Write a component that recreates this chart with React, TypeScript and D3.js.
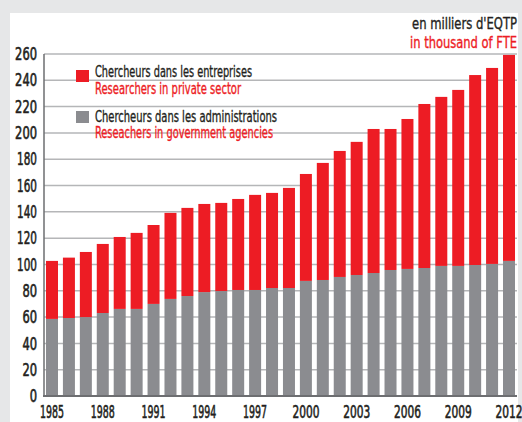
import React from "react";
import * as d3 from "d3";

const years = [1985, 1986, 1987, 1988, 1989, 1990, 1991, 1992, 1993, 1994, 1995, 1996, 1997, 1998, 1999, 2000, 2001, 2002, 2003, 2004, 2005, 2006, 2007, 2008, 2009, 2010, 2011, 2012];
const government = [58.6, 59.3, 60, 63.1, 66.2, 66.2, 70, 73.8, 76, 79, 79.8, 80.6, 80.6, 82.1, 82.1, 87.5, 88.2, 90.5, 92, 93.5, 95.8, 96.6, 97.3, 98.9, 98.9, 99.6, 100.4, 102.7];
const privateSector = [44.1, 45.9, 49.5, 52.5, 54.7, 57.8, 60, 65.4, 67, 67, 67, 69.2, 72.3, 72.3, 76.1, 81.3, 89, 95.8, 101.2, 109.5, 107.2, 114, 124.7, 128.5, 133.8, 144.4, 149, 156.6];
const yTicks = [0, 20, 40, 60, 80, 100, 120, 140, 160, 180, 200, 220, 240, 260];
const xTickYears = [1985, 1988, 1991, 1994, 1997, 2000, 2003, 2006, 2009, 2012];
const seriesKeys = ["government", "private"];
const seriesColors = ["#8b8c90", "#ed1c24"];

const W = 522;
const H = 422;
const FONT = "'DejaVu Sans Condensed', 'Liberation Sans Narrow', sans-serif";
const DARK = "#231f20";
const RED = "#ed1c24";

function T(props: any) {
  const { w, sw, children, fill, ...rest } = props;
  return (
    <text
      fontFamily={FONT}
      textLength={w}
      lengthAdjust="spacingAndGlyphs"
      fill={fill}
      stroke={fill}
      strokeWidth={sw ?? 0.35}
      {...rest}
    >
      {children}
    </text>
  );
}

export default function App() {
  const x = d3
    .scaleBand<number>()
    .domain(years)
    .range([44, 517])
    .paddingInner(0.291)
    .paddingOuter(0.118);
  const y = d3.scaleLinear().domain([0, 260]).range([396, 54]);

  const rows = years.map((yr, i) => ({ year: yr, government: government[i], private: privateSector[i] }));
  const stacked = d3.stack<any>().keys(seriesKeys)(rows);

  return (
    <svg width={W} height={H} style={{ position: "absolute", left: 0, top: 0 }}>
      <rect x={0} y={0} width={W} height={H} fill="#e6e7e8" />
      <rect x={10} y={13} width={508} height={H - 13} fill="#ffffff" />

      {yTicks.filter((t) => t > 0).map((t) => (
        <line key={t} x1={44} x2={517} y1={y(t)} y2={y(t)} stroke="#b5b6b8" strokeWidth={1.5} />
      ))}

      {stacked.map((s, si) => (
        <g key={s.key} fill={seriesColors[si]}>
          {s.map((d, i) => (
            <rect
              key={i}
              x={x(years[i])}
              width={x.bandwidth()}
              y={y(d[1])}
              height={y(d[0]) - y(d[1])}
            />
          ))}
        </g>
      ))}

      <line x1={44} x2={44} y1={y(260)} y2={y(0) + 1} stroke="#6d6e71" strokeWidth={1.5} />
      <line x1={43} x2={517} y1={y(0)} y2={y(0)} stroke="#6d6e71" strokeWidth={2} />

      {yTicks.map((t) => {
        const s = String(t);
        const w = s.length * 7.3 - (s.startsWith("1") ? 2 : 0);
        return (
          <T key={t} w={w} sw={0.6} x={37} y={y(t)} dy="0.36em" textAnchor="end" fontSize={17} fill={DARK}>
            {s}
          </T>
        );
      })}

      {xTickYears.map((yr) => (
        <T
          key={yr}
          w={yr < 2000 ? 24 : 27}
          sw={0.6}
          x={(x(yr) as number) + x.bandwidth() / 2}
          y={418}
          textAnchor="middle"
          fontSize={17}
          fill={DARK}
        >
          {yr}
        </T>
      ))}

      <T w={105} x={517} y={29} textAnchor="end" fontSize={16} fill={DARK}>
        en milliers d'EQTP
      </T>
      <T w={107} x={517} y={48} textAnchor="end" fontSize={16} fill={RED}>
        in thousand of FTE
      </T>

      <rect x={76} y={70} width={13} height={12} fill={seriesColors[1]} />
      <T w={157} x={95} y={77} fontSize={16} fill={DARK}>
        Chercheurs dans les entreprises
      </T>
      <T w={146} x={95} y={94} fontSize={16} fill={RED}>
        Researchers in private sector
      </T>
      <rect x={76} y={111} width={13} height={12} fill={seriesColors[0]} />
      <T w={182} x={95} y={122} fontSize={16} fill={DARK}>
        Chercheurs dans les administrations
      </T>
      <T w={178} x={95} y={138} fontSize={16} fill={RED}>
        Reseachers in government agencies
      </T>
    </svg>
  );
}
